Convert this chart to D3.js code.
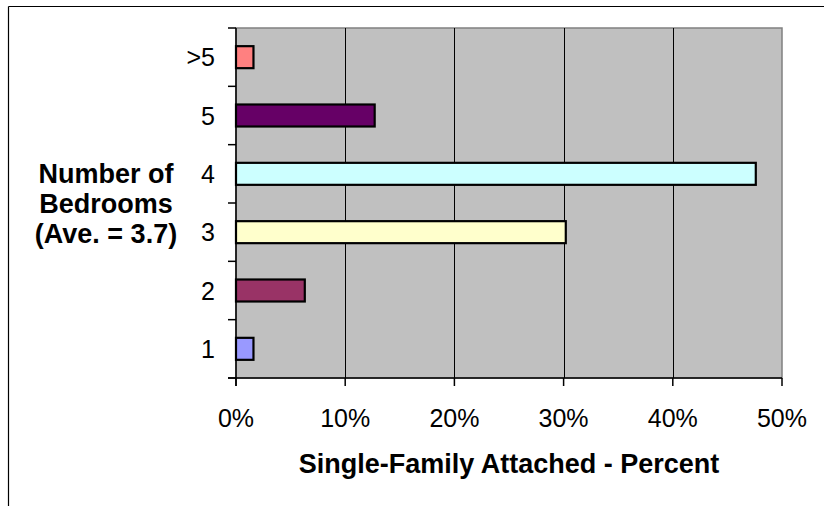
<!DOCTYPE html>
<html>
<head>
<meta charset="utf-8">
<script src="https://cdn.jsdelivr.net/npm/d3@7"></script>
<style>
html,body{margin:0;padding:0;background:#fff;}
svg{display:block;font-family:"Liberation Sans",Arial,sans-serif;}
</style>
</head>
<body>
<svg id="chart" width="824" height="506"></svg>
<script>
const categories = ["1", "2", "3", "4", "5", ">5"];
const values = [1.6, 6.3, 30.2, 47.6, 12.7, 1.6];
const colors = ["#9999FF", "#993366", "#FFFFCC", "#CCFFFF", "#660066", "#FF8080"];
const xTicks = [0, 10, 20, 30, 40, 50];
const xTitle = "Single-Family Attached - Percent";
const yTitleLines = ["Number of", "Bedrooms", "(Ave. = 3.7)"];

const svg = d3.select("#chart");
const L = 236, R = 782, T = 28, B = 378;

// outer frame (top and left visible)
svg.append("line").attr("x1", 8.5).attr("x2", 824).attr("y1", 6.5).attr("y2", 6.5).attr("stroke", "#000").attr("stroke-width", 1.2);
svg.append("line").attr("x1", 8.5).attr("x2", 8.5).attr("y1", 6.5).attr("y2", 506).attr("stroke", "#000").attr("stroke-width", 1.2);

const x = d3.scaleLinear().domain([0, 50]).range([L, R]);
const y = d3.scaleBand().domain(categories.slice().reverse()).range([T, B]).paddingInner(0).paddingOuter(0);

// plot background
svg.append("rect").attr("x", L).attr("y", T).attr("width", R - L).attr("height", B - T)
  .attr("fill", "#C0C0C0").attr("stroke", "#808080").attr("stroke-width", 1.5);

// gridlines
svg.append("g").selectAll("line").data(xTicks.filter(d => d > 0 && d < 50)).join("line")
  .attr("x1", d => Math.round(x(d)) + 0.5).attr("x2", d => Math.round(x(d)) + 0.5)
  .attr("y1", T).attr("y2", B).attr("stroke", "#000").attr("stroke-width", 1);

// bars
const barH = 22;
svg.append("g").selectAll("rect").data(categories).join("rect")
  .attr("x", x(0))
  .attr("y", (d) => y(d) + y.bandwidth() / 2 - barH / 2)
  .attr("width", (d, i) => x(values[i]) - x(0))
  .attr("height", barH)
  .attr("fill", (d, i) => colors[i])
  .attr("stroke", "#000").attr("stroke-width", 2.2);

// y axis
const yAxisG = svg.append("g").attr("transform", `translate(${L},0)`);
yAxisG.append("line").attr("x1", 0).attr("x2", 0).attr("y1", T).attr("y2", B + 8).attr("stroke", "#000").attr("stroke-width", 1.5);
const yBounds = d3.range(categories.length + 1).map(i => T + i * y.bandwidth());
yAxisG.selectAll(".yt").data(yBounds).join("line").attr("class", "yt")
  .attr("x1", -8).attr("x2", 0).attr("y1", d => d).attr("y2", d => d).attr("stroke", "#000").attr("stroke-width", 1.5);
yAxisG.selectAll(".yl").data(categories).join("text").attr("class", "yl")
  .attr("x", -21).attr("y", d => y(d) + y.bandwidth() / 2 + 9)
  .attr("text-anchor", "end").attr("font-size", 25).attr("fill", "#000").text(d => d);

// x axis
const xAxisG = svg.append("g").attr("transform", `translate(0,${B})`);
xAxisG.append("line").attr("x1", L - 8).attr("x2", R).attr("y1", 0).attr("y2", 0).attr("stroke", "#000").attr("stroke-width", 1.5);
xAxisG.selectAll(".xt").data(xTicks).join("line").attr("class", "xt")
  .attr("x1", d => x(d)).attr("x2", d => x(d)).attr("y1", 0).attr("y2", 8).attr("stroke", "#000").attr("stroke-width", 1.5);
xAxisG.selectAll(".xl").data(xTicks).join("text").attr("class", "xl")
  .attr("x", d => x(d)).attr("y", 48.5).attr("text-anchor", "middle")
  .attr("font-size", 25).attr("fill", "#000").text(d => d + "%");

// x title
svg.append("text").attr("x", (L + R) / 2).attr("y", 473).attr("text-anchor", "middle")
  .attr("font-size", 27).attr("font-weight", "bold").attr("fill", "#000").text(xTitle);

// y title
svg.append("g").selectAll("text").data(yTitleLines).join("text")
  .attr("x", 106).attr("y", (d, i) => 183 + i * 30).attr("text-anchor", "middle")
  .attr("font-size", 27).attr("font-weight", "bold").attr("fill", "#000").text(d => d);
</script>
</body>
</html>
